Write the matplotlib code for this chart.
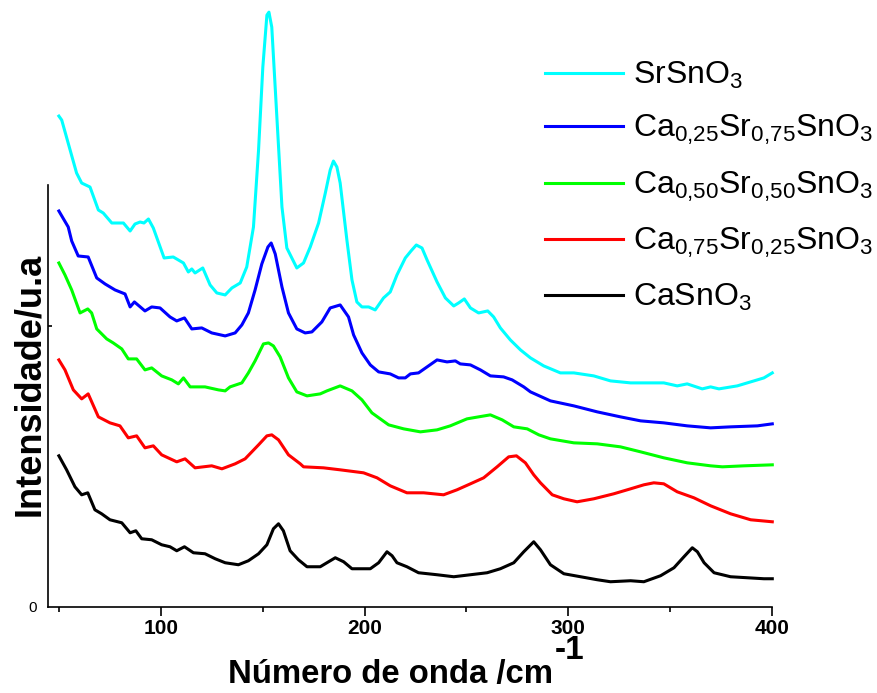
import matplotlib.pyplot as plt

plt.rcParams['font.family'] = ['Liberation Sans', 'DejaVu Sans']
plt.rcParams['mathtext.fontset'] = 'custom'
plt.rcParams['mathtext.rm'] = 'Liberation Sans'
plt.rcParams['mathtext.default'] = 'regular'

# Raman spectra (x in cm-1, y in arbitrary units)
x_sr = [49.8, 51.2, 58.5, 61.0, 65.1, 69.2, 71.6, 75.8, 81.5, 84.8, 87.2, 89.7, 91.6, 93.8, 96.2,
        101.5, 106.0, 111.0, 113.4, 115.1, 116.7, 120.5, 124.1, 127.4, 131.5, 134.8, 138.9, 142.1,
        145.4, 147.9, 150.0, 152.0, 153.0, 154.4, 156.9, 159.4, 161.8, 166.7, 170.0, 173.3, 177.4,
        180.7, 183.1, 184.7, 186.4, 188.0, 191.3, 193.8, 196.2, 198.7, 202.0, 205.2, 209.3, 212.6,
        215.9, 220.0, 222.8, 225.4, 228.2, 230.7, 235.6, 239.7, 243.8, 246.2, 249.0, 252.0, 256.0,
        260.5, 263.4, 266.7, 271.6, 276.6, 281.5, 288.0, 296.2, 302.8, 312.6, 320.8, 330.7, 338.9,
        347.0, 353.6, 358.5, 365.9, 370.0, 374.1, 383.1, 391.3, 396.2, 400.3]
y_sr = [491, 487, 434, 424, 420, 397, 394, 384, 384, 376, 383, 385, 384, 388, 379,
        349, 350, 344, 335, 338, 334, 339, 322, 314, 312, 319, 324, 340,
        380, 457, 540, 592, 595, 580, 490, 400, 359, 339, 344, 360, 384,
        414, 437, 446, 440, 424, 367, 327, 305, 300, 300, 297, 309, 315,
        332, 349, 356, 362, 359, 347, 325, 309, 301, 304, 308, 299, 294,
        296, 290, 279, 267, 257, 249, 241, 234, 234, 231, 226, 224, 224,
        224, 221, 223, 218, 220, 218, 221, 226, 229, 234]

x_ca25 = [49.8, 54.4, 56.1, 59.3, 64.2, 68.4, 72.5, 77.4, 82.3, 84.8, 86.9, 92.1, 95.4, 99.5,
          104.4, 107.7, 111.5, 115.1, 120.0, 124.9, 131.5, 136.4, 139.7, 142.9, 146.2, 149.5,
          152.5, 154.1, 156.1, 159.4, 162.6, 166.7, 170.8, 174.1, 179.0, 183.1, 188.0, 192.1,
          194.6, 198.7, 202.8, 206.9, 212.6, 216.7, 220.0, 222.5, 226.5, 230.7, 235.6, 240.5,
          244.6, 247.0, 252.0, 256.9, 261.8, 268.3, 272.5, 278.2, 281.5, 291.3, 302.8, 314.3,
          325.7, 335.6, 347.0, 358.5, 370.0, 379.8, 393.0, 400.3]
y_ca25 = [396, 380, 366, 351, 350, 329, 323, 317, 313, 300, 305, 296, 300, 299,
          290, 286, 289, 278, 279, 274, 271, 274, 282, 294, 317, 343,
          360, 364, 353, 320, 294, 278, 274, 275, 285, 299, 302, 290,
          272, 254, 242, 235, 233, 229, 229, 233, 234, 240, 247, 245,
          246, 243, 242, 237, 231, 230, 227, 220, 215, 206, 201, 195,
          190, 186, 184, 181, 179, 180, 181, 183]

x_ca50 = [49.8, 52.8, 56.1, 60.2, 64.0, 65.9, 68.4, 73.3, 76.5, 80.7, 83.9, 88.0, 92.1, 95.4,
          100.3, 105.3, 108.5, 111.0, 114.3, 121.6, 128.2, 131.5, 133.9, 139.7, 142.9, 146.2,
          150.3, 152.8, 155.2, 158.5, 162.6, 166.7, 171.7, 178.2, 181.5, 188.0, 193.8, 198.7,
          203.6, 211.8, 219.2, 227.4, 235.6, 242.1, 250.3, 256.0, 261.8, 267.6, 273.3, 279.9,
          285.6, 291.3, 302.8, 314.3, 325.7, 335.6, 347.0, 358.5, 370.0, 375.8, 386.4, 400.3]
y_ca50 = [344, 332, 317, 294, 298, 294, 278, 268, 264, 258, 248, 248, 237, 239,
          231, 227, 223, 229, 220, 220, 217, 216, 220, 224, 234, 246,
          263, 264, 261, 250, 229, 215, 211, 213, 216, 221, 216, 207,
          194, 182, 178, 175, 177, 181, 188, 190, 192, 187, 180, 178,
          172, 168, 164, 163, 160, 155, 149, 144, 141, 140, 141, 142]

x_ca75 = [49.8, 52.8, 56.9, 61.0, 64.2, 69.2, 74.9, 79.8, 83.9, 88.0, 92.1, 96.2, 100.3,
          107.7, 111.8, 116.7, 124.9, 129.9, 136.4, 141.3, 147.9, 152.0, 154.4, 157.7, 162.6,
          168.4, 170.0, 179.8, 188.0, 199.5, 206.1, 212.6, 220.8, 229.0, 238.8, 245.4, 252.0,
          258.5, 265.1, 270.8, 274.6, 279.0, 283.1, 286.4, 292.2, 297.9, 304.4, 312.6, 322.4,
          330.7, 337.2, 342.1, 347.0, 353.6, 361.8, 370.0, 379.8, 389.7, 400.3]
y_ca75 = [247, 237, 217, 208, 213, 190, 184, 181, 169, 171, 159, 161, 152,
          145, 148, 139, 141, 138, 143, 148, 162, 171, 172, 167, 152,
          143, 140, 139, 137, 134, 129, 121, 114, 114, 112, 117, 123,
          129, 140, 150, 151, 144, 132, 124, 112, 108, 105, 108, 113,
          118, 122, 124, 123, 115, 109, 101, 93, 87, 85]

x_ca = [49.8, 53.6, 57.7, 61.0, 64.0, 67.5, 70.8, 74.9, 80.7, 84.8, 87.6, 90.5, 95.4, 100.3,
        104.4, 107.7, 111.5, 115.9, 121.6, 126.6, 131.5, 138.0, 142.9, 147.9, 152.0, 155.2,
        157.7, 160.1, 163.4, 167.5, 171.7, 178.2, 185.6, 189.7, 193.8, 202.8, 206.9, 211.0,
        213.5, 215.9, 220.8, 226.5, 235.6, 243.8, 252.0, 260.2, 266.7, 273.3, 278.2, 283.1,
        286.4, 291.3, 297.9, 306.1, 314.3, 320.8, 330.7, 337.2, 345.4, 352.0, 356.9, 361.0,
        363.5, 366.8, 371.7, 379.8, 388.0, 396.2, 400.3]
y_ca = [151, 137, 120, 112, 114, 97, 93, 87, 84, 74, 76, 68, 67, 62,
        60, 56, 60, 54, 53, 48, 44, 42, 46, 53, 62, 78,
        83, 76, 56, 47, 40, 40, 49, 45, 38, 38, 44, 55,
        51, 44, 40, 34, 32, 30, 32, 34, 38, 44, 55, 65,
        57, 42, 33, 30, 27, 25, 26, 25, 31, 39, 50, 59,
        55, 44, 34, 30, 29, 28, 28]

series = [
    (x_sr, y_sr, '#00ffff', 'SrSnO$_3$'),
    (x_ca25, y_ca25, '#0000ff', 'Ca$_{0{,}25}$Sr$_{0{,}75}$SnO$_3$'),
    (x_ca50, y_ca50, '#00ff00', 'Ca$_{0{,}50}$Sr$_{0{,}50}$SnO$_3$'),
    (x_ca75, y_ca75, '#ff0000', 'Ca$_{0{,}75}$Sr$_{0{,}25}$SnO$_3$'),
    (x_ca, y_ca, '#000000', 'CaSnO$_3$'),
]

fig = plt.figure(figsize=(8.78, 6.93), dpi=100)
ax = fig.add_axes([0.0550, 0.1245, 0.8239, 0.6085])

for x, y, c, lab in series:
    ax.plot(x, y, color=c, lw=2.2, label=lab, clip_on=False)

ax.set_xlim(44.6, 400)
ax.set_ylim(0, 422)
ax.spines['top'].set_visible(False)
ax.spines['right'].set_visible(False)
for s in ['left', 'bottom']:
    ax.spines[s].set_linewidth(1.2)

ax.set_xticks([100, 200, 300, 400])
ax.set_xticks([50, 150, 250, 350], minor=True)
ax.set_xticklabels(['100', '200', '300', '400'], fontweight='bold', fontsize=15)
ax.tick_params(axis='x', which='major', direction='out', length=6.5, width=1.2, pad=2)
ax.tick_params(axis='x', which='minor', direction='out', length=3.6, width=1.2)

ax.set_yticks([0])
ax.set_yticklabels(['0'], fontsize=11)
ax.set_yticks([281], minor=True)
ax.tick_params(axis='y', which='major', length=0, pad=8)
ax.tick_params(axis='y', which='minor', direction='in', length=3, width=1.2)

# x label: the cm-1 exponent is drawn as a separate, larger superscript
ax.set_xlabel('Número de onda /cm', fontsize=23.7, fontweight='bold', ha='left', va='baseline')
ax.xaxis.set_label_coords((228 - 48.3) / 723.4, -0.181)
ax.set_ylabel('Intensidade/u.a', fontsize=26, fontweight='bold', va='center')
ax.yaxis.set_label_coords(-0.0253, 0.526)

ax.legend(loc='upper left', bbox_to_anchor=(545 / 878, 1 - 60 / 693), bbox_transform=fig.transFigure,
          frameon=False, fontsize=23, handlelength=2.45, handletextpad=0.31, labelspacing=0.69,
          borderpad=0, borderaxespad=0)

renderer = fig.canvas.get_renderer()
bb = ax.xaxis.label.get_window_extent(renderer)
fig.text((bb.x1 + 2) / 878, 34 / 693, '-1', fontsize=24, fontweight='bold', ha='left', va='baseline')

fig.savefig('out.png', dpi=100)
